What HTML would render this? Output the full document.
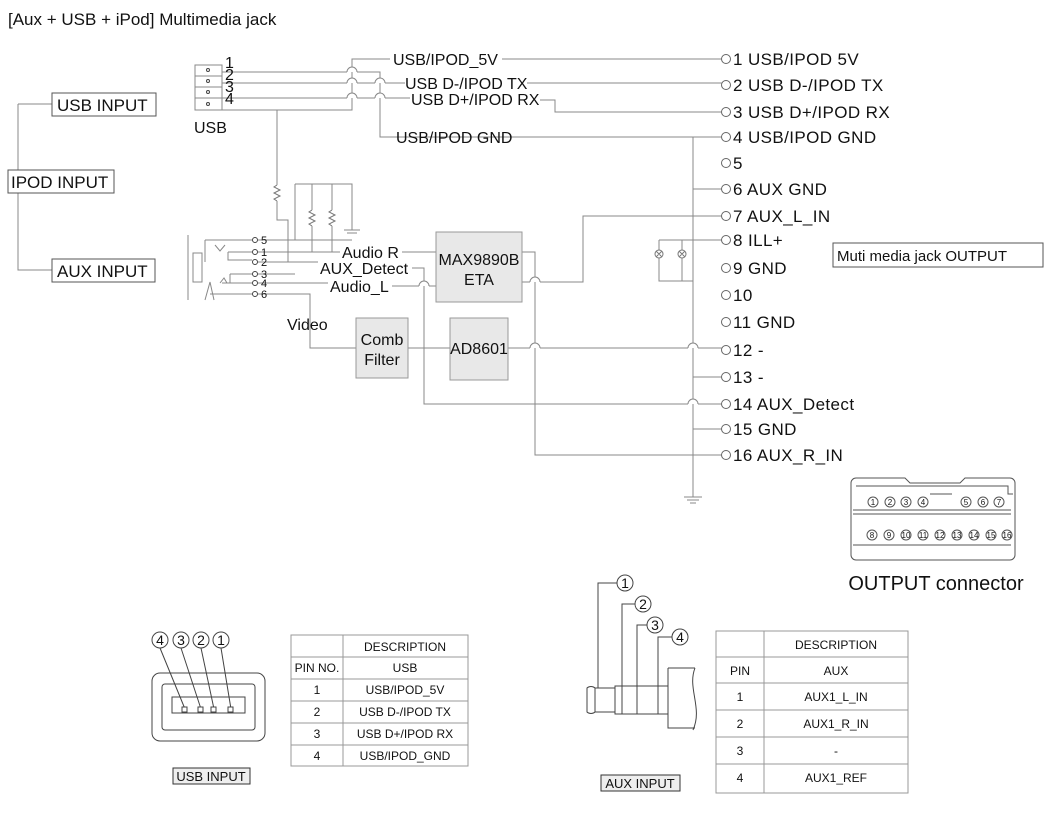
<!DOCTYPE html>
<html><head><meta charset="utf-8"><style>
html,body{margin:0;padding:0;background:#fff}
svg{display:block}
text{font-family:"Liberation Sans",sans-serif;fill:#111}
</style></head><body>
<svg width="1050" height="831" viewBox="0 0 1050 831" xmlns="http://www.w3.org/2000/svg">
<g fill="none" stroke="#888" stroke-width="1">
<path d="M18 104H52M18 104V270H52"/>
<rect x="52" y="93" width="104" height="23" stroke="#555"/>
<rect x="8" y="170" width="106" height="23" stroke="#555" fill="#fff"/>
<rect x="52" y="259" width="103" height="23" stroke="#555"/>
<rect x="195" y="65" width="27" height="45"/>
<path d="M195 76H222M195 87H222M195 98H222"/>
<path d="M222 72H347M357 72H380V137H722"/>
<path d="M222 83H347M357 83H375M385 83H405"/>
<path d="M527 83H722"/>
<path d="M222 98H347M357 98H375M385 98H410"/>
<path d="M540 100H555V112H722"/>
<path d="M222 110H352V59H390"/>
<path d="M502 59H722"/>
<path d="M277 110V185M277 201V220H288V262"/>
<path d="M295 184H352V230M295 184V240M312 184V210M312 226V252M332 184V210M332 226V252"/>
<path d="M344 230h16M347 233h10"/>
<path d="M188 235V300M193 253h9v29h-9z"/>
<path d="M205 240H252M205 240V262M228 252H252M215 245l5 6 5-6M228 252v8h24M230 274H252M230 274v9M222 283H252M220 283l4-5 3 5M205 300l5-18 4 18M210 294H252"/>
<path d="M258 240H352M258 252H340M402 252H436M258 262H318M412 268H424V404H688M698 404H722M258 274H295M258 283H328M392 286H419M429 286H436M258 294H310V348H356M408 348H450M508 348H530M540 348H688M698 348H722"/>
<path d="M522 252H535V455H722M522 282H530M540 282H583V216H722"/>
<path d="M693 137V497M684 497h18M687 500h12M690 503h6"/>
<path d="M693 189H722M693 240H722M693 377H722M693 429H722"/>
<path d="M659 240H693M659 240V281H693M682 240V281"/>
</g>
<g fill="none" stroke="#777" stroke-width="1">
<path d="M277 185l-3 2 6 3-6 3 6 3-6 3 3 2"/>
<path d="M312 210l-3 2 6 3-6 3 6 3-6 3 3 2"/>
<path d="M332 210l-3 2 6 3-6 3 6 3-6 3 3 2"/>
</g>
<g fill="#fff" stroke="#888">
<path d="M347 72a5 5 0 0 1 10 0M347 83a5 5 0 0 1 10 0M347 98a5 5 0 0 1 10 0M375 83a5 5 0 0 1 10 0M375 98a5 5 0 0 1 10 0M419 286a5 5 0 0 1 10 0M530 282a5 5 0 0 1 10 0M530 348a5 5 0 0 1 10 0M688 404a5 5 0 0 1 10 0M688 348a5 5 0 0 1 10 0"/>
</g>
<g fill="#fff" stroke="#777">
<circle cx="659" cy="254" r="4"/><circle cx="682" cy="254" r="4"/>
<path d="M656 251l6 6M662 251l-6 6M679 251l6 6M685 251l-6 6"/>
</g>
<g fill="#fff" stroke="#444">
<circle cx="255" cy="240" r="2.5"/><circle cx="255" cy="252" r="2.5"/><circle cx="255" cy="262" r="2.5"/><circle cx="255" cy="274" r="2.5"/><circle cx="255" cy="283" r="2.5"/><circle cx="255" cy="294" r="2.5"/>
<circle cx="208" cy="70" r="1.5"/><circle cx="208" cy="81" r="1.5"/><circle cx="208" cy="92" r="1.5"/><circle cx="208" cy="104" r="1.5"/>
</g>
<g font-size="11"><text x="261" y="244">5</text><text x="261" y="256">1</text><text x="261" y="266">2</text><text x="261" y="278">3</text><text x="261" y="287">4</text><text x="261" y="298">6</text></g>
<g fill="#fff" stroke="#666">
<circle cx="726" cy="59" r="4.5"/><circle cx="726" cy="85" r="4.5"/><circle cx="726" cy="112" r="4.5"/><circle cx="726" cy="137" r="4.5"/><circle cx="726" cy="163" r="4.5"/><circle cx="726" cy="189" r="4.5"/><circle cx="726" cy="216" r="4.5"/><circle cx="726" cy="240" r="4.5"/><circle cx="726" cy="268" r="4.5"/><circle cx="726" cy="295" r="4.5"/><circle cx="726" cy="322" r="4.5"/><circle cx="726" cy="350" r="4.5"/><circle cx="726" cy="377" r="4.5"/><circle cx="726" cy="404" r="4.5"/><circle cx="726" cy="429" r="4.5"/><circle cx="726" cy="455" r="4.5"/>
</g>
<g font-size="17" letter-spacing="0.4">
<text x="733" y="65">1 USB/IPOD 5V</text><text x="733" y="91">2 USB D-/IPOD TX</text><text x="733" y="118">3 USB D+/IPOD RX</text><text x="733" y="143">4 USB/IPOD GND</text><text x="733" y="169">5</text><text x="733" y="195">6 AUX GND</text><text x="733" y="222">7 AUX_L_IN</text><text x="733" y="246">8 ILL+</text><text x="733" y="274">9 GND</text><text x="733" y="301">10</text><text x="733" y="328">11 GND</text><text x="733" y="356">12 -</text><text x="733" y="383">13 -</text><text x="733" y="410">14 AUX_Detect</text><text x="733" y="435">15 GND</text><text x="733" y="461">16 AUX_R_IN</text>
</g>
<text x="8" y="25" font-size="17">[Aux + USB + iPod] Multimedia jack</text>
<g font-size="17">
<text x="57" y="111">USB INPUT</text><text x="11" y="188">IPOD INPUT</text><text x="57" y="277">AUX INPUT</text>
</g>
<g font-size="16">
<text x="225" y="68">1</text><text x="225" y="80">2</text><text x="225" y="92">3</text><text x="225" y="104">4</text>
<text x="194" y="133">USB</text>
<text x="393" y="65">USB/IPOD_5V</text><text x="405" y="89">USB D-/IPOD TX</text><text x="411" y="105">USB D+/IPOD RX</text><text x="396" y="143">USB/IPOD GND</text>
<text x="342" y="258">Audio R</text><text x="320" y="274">AUX_Detect</text><text x="330" y="292">Audio_L</text>
<text x="287" y="330">Video</text>
</g>
<g fill="#e8e8e8" stroke="#999">
<rect x="436" y="232" width="86" height="70"/><rect x="356" y="318" width="52" height="60"/><rect x="450" y="318" width="58" height="62"/>
</g>
<g font-size="16" text-anchor="middle">
<text x="479" y="265">MAX9890B</text><text x="479" y="285">ETA</text>
<text x="382" y="345">Comb</text><text x="382" y="365">Filter</text>
<text x="479" y="354">AD8601</text>
</g>
<rect x="833" y="243" width="210" height="24" fill="none" stroke="#555"/>
<text x="837" y="261" font-size="15">Muti media jack OUTPUT</text>
<g fill="none" stroke="#555">
<path d="M856 478H905l5 5h50l5-5h45a5 5 0 0 1 5 5V555a5 5 0 0 1-5 5H856a5 5 0 0 1-5-5V483a5 5 0 0 1 5-5z"/>
<path d="M856 486h152v8h5M853 510h158M853 514h158M853 545h158M930 494h22"/>
</g>
<g font-size="8" text-anchor="middle">
<g fill="#fff" stroke="#555"><circle cx="873" cy="502" r="5"/><circle cx="890" cy="502" r="5"/><circle cx="906" cy="502" r="5"/><circle cx="923" cy="502" r="5"/><circle cx="966" cy="502" r="5"/><circle cx="983" cy="502" r="5"/><circle cx="999" cy="502" r="5"/>
<circle cx="872" cy="535" r="5"/><circle cx="889" cy="535" r="5"/><circle cx="906" cy="535" r="5"/><circle cx="923" cy="535" r="5"/><circle cx="940" cy="535" r="5"/><circle cx="957" cy="535" r="5"/><circle cx="974" cy="535" r="5"/><circle cx="991" cy="535" r="5"/><circle cx="1007" cy="535" r="5"/></g>
<text x="873" y="505">1</text><text x="890" y="505">2</text><text x="906" y="505">3</text><text x="923" y="505">4</text><text x="966" y="505">5</text><text x="983" y="505">6</text><text x="999" y="505">7</text>
<text x="872" y="538">8</text><text x="889" y="538">9</text><text x="906" y="538">10</text><text x="923" y="538">11</text><text x="940" y="538">12</text><text x="957" y="538">13</text><text x="974" y="538">14</text><text x="991" y="538">15</text><text x="1007" y="538">16</text>
</g>
<text x="936" y="590" font-size="20" text-anchor="middle">OUTPUT connector</text>
<g fill="#fff" stroke="#444">
<circle cx="160" cy="640" r="8"/><circle cx="181" cy="640" r="8"/><circle cx="201" cy="640" r="8"/><circle cx="221" cy="640" r="8"/>
</g>
<g font-size="14" text-anchor="middle"><text x="160" y="645">4</text><text x="181" y="645">3</text><text x="201" y="645">2</text><text x="221" y="645">1</text></g>
<g fill="none" stroke="#444">
<rect x="152" y="673" width="113" height="68" rx="8"/>
<rect x="162" y="684" width="93" height="46" rx="3"/>
<rect x="172" y="697" width="73" height="16"/>
<path d="M160 648L185 709M181 648L201 709M201 648L214 709M221 648L231 709"/>
</g>
<g fill="#fff" stroke="#444"><rect x="182" y="707" width="5" height="5"/><rect x="198" y="707" width="5" height="5"/><rect x="211" y="707" width="5" height="5"/><rect x="228" y="707" width="5" height="5"/></g>
<rect x="173" y="768" width="77" height="16" fill="#eee" stroke="#333"/>
<text x="211" y="781" font-size="13" text-anchor="middle">USB INPUT</text>
<g fill="none" stroke="#999"><rect x="291" y="635" width="177" height="131"/><path d="M343 635V766M291 657H468M291 679H468M291 701H468M291 723H468M291 745H468"/></g>
<g font-size="12" text-anchor="middle">
<text x="405" y="651">DESCRIPTION</text><text x="317" y="672">PIN NO.</text><text x="405" y="672">USB</text>
<text x="317" y="694">1</text><text x="405" y="694">USB/IPOD_5V</text><text x="317" y="716">2</text><text x="405" y="716">USB D-/IPOD TX</text><text x="317" y="738">3</text><text x="405" y="738">USB D+/IPOD RX</text><text x="317" y="760">4</text><text x="405" y="760">USB/IPOD_GND</text>
</g>
<g fill="none" stroke="#444">
<path d="M598 688V583H617M622 690V604H635M637 690V625H647M658 690V637H672"/>
<path d="M595 688h20M595 712h20M595 688a6 6 0 0 0 -8 0v24a6 6 0 0 0 8 0zM595 688V712M615 686H668V714H615ZM622 686V714M637 686V714M658 686V714M668 668H695M668 668V728H695M695 668c-8 20 8 40-2 62"/>
</g>
<g fill="#fff" stroke="#444"><circle cx="625" cy="583" r="8"/><circle cx="643" cy="604" r="8"/><circle cx="655" cy="625" r="8"/><circle cx="680" cy="637" r="8"/></g>
<g font-size="14" text-anchor="middle"><text x="625" y="588">1</text><text x="643" y="609">2</text><text x="655" y="630">3</text><text x="680" y="642">4</text></g>
<rect x="601" y="775" width="79" height="16" fill="#eee" stroke="#333"/>
<text x="640" y="788" font-size="13" text-anchor="middle">AUX INPUT</text>
<g fill="none" stroke="#999"><rect x="716" y="631" width="192" height="162"/><path d="M764 631V793M716 657H908M716 683H908M716 710H908M716 737H908M716 764H908"/></g>
<g font-size="12" text-anchor="middle">
<text x="836" y="649">DESCRIPTION</text><text x="740" y="675">PIN</text><text x="836" y="675">AUX</text>
<text x="740" y="701">1</text><text x="836" y="701">AUX1_L_IN</text><text x="740" y="728">2</text><text x="836" y="728">AUX1_R_IN</text><text x="740" y="755">3</text><text x="836" y="755">-</text><text x="740" y="782">4</text><text x="836" y="782">AUX1_REF</text>
</g>
</svg>
</body></html>
